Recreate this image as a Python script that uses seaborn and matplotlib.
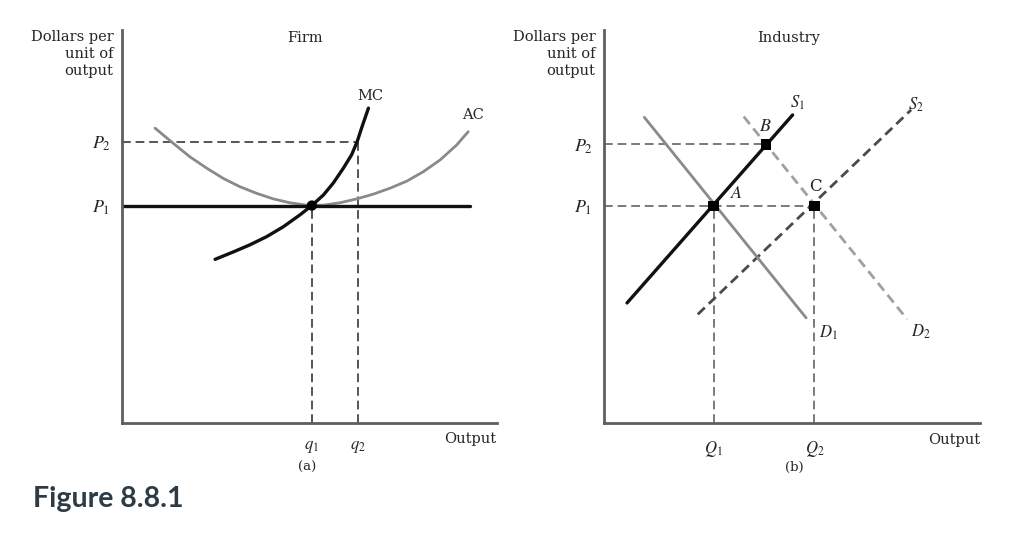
import matplotlib
matplotlib.use("Agg")
import matplotlib.pyplot as plt
import seaborn as sns

# ---------------- data (arbitrary units 0..10) -------------
# Panel (a) Firm
firm_q = [5.07, 6.30]            # q1, q2
firm_q_labels = ["$q_1$", "$q_2$"]
firm_p = [5.53, 7.16]            # P1, P2
firm_p_labels = ["$P_1$", "$P_2$"]
mc_x = [2.49, 2.98, 3.42, 3.87, 4.31, 4.75, 5.07, 5.38, 5.64, 5.91, 6.13, 6.28, 6.41, 6.58]
mc_y = [4.16, 4.35, 4.53, 4.74, 4.99, 5.29, 5.53, 5.80, 6.10, 6.48, 6.82, 7.16, 7.54, 8.01]
ac_x = [0.89, 1.38, 1.82, 2.27, 2.71, 3.15, 3.60, 4.04, 4.49, 4.93, 5.38, 5.82,
        6.27, 6.71, 7.15, 7.60, 8.04, 8.49, 8.93, 9.24]
ac_y = [7.50, 7.11, 6.77, 6.48, 6.22, 6.01, 5.84, 5.70, 5.60, 5.54, 5.54, 5.60,
        5.70, 5.82, 5.97, 6.15, 6.39, 6.69, 7.07, 7.41]
firm_price_end = 9.29

# Panel (b) Industry
ind_q = [2.92, 5.60]             # Q1, Q2
ind_q_labels = ["$Q_1$", "$Q_2$"]
ind_p = [5.53, 7.09]             # P1, P2
ind_p_labels = ["$P_1$", "$P_2$"]
s1_x, s1_y = [0.62, 5.02], [3.06, 7.84]
d1_x, d1_y = [1.08, 5.38], [7.78, 2.68]
s2_x, s2_y = [2.50, 8.17], [2.77, 7.97]
d2_x, d2_y = [3.72, 8.06], [7.80, 2.65]
pt_names = ["A", "B", "C"]
pt_x = [2.92, 4.32, 5.60]
pt_y = [5.53, 7.09, 5.53]

# ---------------- style ----------------
sns.set_theme(style="white")
plt.rcParams["font.family"] = ["DejaVu Serif"]
plt.rcParams["mathtext.fontset"] = "stix"

W, H = 1024, 541
fig = plt.figure(figsize=(W / 100, H / 100), dpi=100)
fig.patch.set_facecolor("white")

def make_ax(x0, x1, ytop, ybot):
    ax = fig.add_axes([x0 / W, (H - ybot) / H, (x1 - x0) / W, (ybot - ytop) / H])
    ax.set_xlim(0, 10)
    ax.set_ylim(0, 10)
    for s in ["top", "right"]:
        ax.spines[s].set_visible(False)
    for s in ["left", "bottom"]:
        ax.spines[s].set_color("#5e5e5e")
        ax.spines[s].set_linewidth(2.0)
    ax.set_facecolor("none")
    ax.tick_params(length=0)
    return ax

AXIS_FONT = 10.5
GUIDE = dict(color="#555555", lw=1.4, linestyle=(0, (4.5, 2.5)))
GUIDE_LIGHT = dict(color="#7a7a7a", lw=1.4, linestyle=(0, (4.5, 2.5)))

# ---------------- panel (a) ----------------
ax1 = make_ax(121.7, 496.7, 30, 422.7)
ax1.plot([0, firm_q[1]], [firm_p[1], firm_p[1]], **GUIDE)
ax1.plot([firm_q[0], firm_q[0]], [0, firm_p[0]], **GUIDE)
ax1.plot([firm_q[1], firm_q[1]], [0, firm_p[1]], **GUIDE)
sns.lineplot(x=ac_x, y=ac_y, ax=ax1, sort=False, estimator=None, color="#8a8a8a", lw=2.0)
sns.lineplot(x=[0, firm_price_end], y=[firm_p[0], firm_p[0]], ax=ax1, sort=False,
             estimator=None, color="#111111", lw=2.4)
sns.lineplot(x=mc_x, y=mc_y, ax=ax1, sort=False, estimator=None, color="#111111", lw=2.4)
sns.scatterplot(x=[firm_q[0]], y=[firm_p[0]], ax=ax1, color="black", s=55, zorder=5,
                edgecolor="none")
ax1.set_xticks(firm_q, firm_q_labels, fontsize=12)
ax1.set_yticks(firm_p, firm_p_labels, fontsize=13)
ax1.tick_params(axis="x", pad=11)
ax1.tick_params(axis="y", pad=8)
ax1.set_xlabel("")
ax1.set_ylabel("")
ax1.text(0.489, 0.98, "Firm", transform=ax1.transAxes, ha="center", va="center",
         fontsize=AXIS_FONT)
ax1.text(-0.022, 1.0, "Dollars per\nunit of\noutput", transform=ax1.transAxes,
         ha="right", va="top", fontsize=AXIS_FONT, linespacing=1.25)
ax1.text(6.62, 8.32, "MC", ha="center", va="center", fontsize=AXIS_FONT)
ax1.text(9.37, 7.84, "AC", ha="center", va="center", fontsize=AXIS_FONT)
ax1.text(10.0, -0.42, "Output", ha="right", va="center", fontsize=AXIS_FONT)
ax1.text(4.94, -1.13, "(a)", ha="center", va="center", fontsize=AXIS_FONT - 1)

# ---------------- panel (b) ----------------
ax2 = make_ax(603.7, 980.0, 30, 423.3)
ax2.plot([0, ind_q[1]], [ind_p[0], ind_p[0]], **GUIDE_LIGHT)
ax2.plot([0, pt_x[1]], [ind_p[1], ind_p[1]], **GUIDE_LIGHT)
ax2.plot([ind_q[0], ind_q[0]], [0, ind_p[0]], **GUIDE_LIGHT)
ax2.plot([ind_q[1], ind_q[1]], [0, ind_p[0]], **GUIDE_LIGHT)
sns.lineplot(x=d2_x, y=d2_y, ax=ax2, sort=False, estimator=None, color="#a0a0a0", lw=2.0,
             linestyle=(0, (3.5, 2)))
sns.lineplot(x=s2_x, y=s2_y, ax=ax2, sort=False, estimator=None, color="#4a4a4a", lw=2.0,
             linestyle=(0, (3.5, 2)))
sns.lineplot(x=d1_x, y=d1_y, ax=ax2, sort=False, estimator=None, color="#8a8a8a", lw=2.0)
sns.lineplot(x=s1_x, y=s1_y, ax=ax2, sort=False, estimator=None, color="#111111", lw=2.4)
sns.scatterplot(x=pt_x, y=pt_y, ax=ax2, color="black", s=55, zorder=5, marker="s",
                edgecolor="none")
ax2.set_xticks(ind_q, ind_q_labels, fontsize=12)
ax2.set_yticks(ind_p, ind_p_labels, fontsize=13)
ax2.tick_params(axis="x", pad=11)
ax2.tick_params(axis="y", pad=8)
ax2.set_xlabel("")
ax2.set_ylabel("")
ax2.text(0.492, 0.98, "Industry", transform=ax2.transAxes, ha="center", va="center",
         fontsize=AXIS_FONT)
ax2.text(-0.022, 1.0, "Dollars per\nunit of\noutput", transform=ax2.transAxes,
         ha="right", va="top", fontsize=AXIS_FONT, linespacing=1.25)
label_pos = {"A": (3.54, 5.86), "B": (4.29, 7.56), "C": (5.64, 6.01)}
for n in pt_names:
    lx, ly = label_pos[n]
    if n == "C":
        ax2.text(lx, ly, "C", ha="center", va="center", fontsize=12)
    else:
        ax2.text(lx, ly, f"${n}$", ha="center", va="center", fontsize=13)
ax2.text(5.14, 8.14, "$S_1$", ha="center", va="center", fontsize=12)
ax2.text(8.30, 8.09, "$S_2$", ha="center", va="center", fontsize=12)
ax2.text(5.98, 2.30, "$D_1$", ha="center", va="center", fontsize=12)
ax2.text(8.43, 2.32, "$D_2$", ha="center", va="center", fontsize=12)
ax2.text(10.0, -0.42, "Output", ha="right", va="center", fontsize=AXIS_FONT)
ax2.text(5.06, -1.11, "(b)", ha="center", va="center", fontsize=AXIS_FONT - 1)

# ---------------- caption ----------------
fig.text(33 / W, 1 - 499 / H, "Figure 8.8.1", ha="left", va="center",
         fontsize=20.5, fontweight="bold", family=["Lato", "DejaVu Sans"], color="#2d3b45")

fig.savefig("out.png", dpi=100, facecolor="white")
